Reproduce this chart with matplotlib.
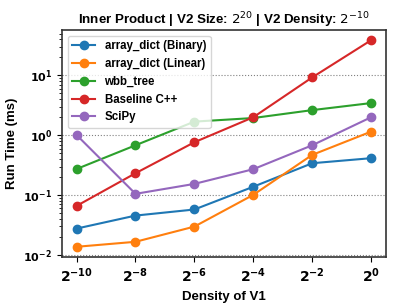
import matplotlib
matplotlib.use("Agg")
import matplotlib.pyplot as plt
import numpy as np

plt.rcParams['font.family'] = ['Liberation Sans', 'DejaVu Sans']

# exponents of 2 for V1 density
exponents = [-10, -8, -6, -4, -2, 0]
density = [2.0 ** e for e in exponents]

binary = [0.0276, 0.0455, 0.0575, 0.138, 0.341, 0.414]
linear = [0.0137, 0.0166, 0.0298, 0.101, 0.47, 1.15]
wbb_tree = [0.273, 0.68, 1.69, 1.94, 2.63, 3.45]
baseline = [0.066, 0.232, 0.765, 2.0, 9.26, 38.7]
scipy = [1.01, 0.105, 0.154, 0.271, 0.68, 2.0]

labels = ["array_dict (Binary)", "array_dict (Linear)", "wbb_tree", "Baseline C++", "SciPy"]

fig = plt.figure(figsize=(4.07, 3.05), dpi=100)
ax = fig.add_axes([0.152, 0.157, 0.796, 0.745])

for series, label in zip([binary, linear, wbb_tree, baseline, scipy], labels):
    ax.plot(density, series, marker="o", markersize=6, linewidth=1.5, label=label)

ax.set_xscale("log", base=2)
ax.set_yscale("log")
ax.set_xticks(density)
ax.set_xticklabels([r"$\mathbf{2^{%d}}$" % e for e in exponents], fontsize=10)
ax.xaxis.set_minor_locator(matplotlib.ticker.NullLocator())

ax.set_yticks([1e-2, 1e-1, 1e0, 1e1])
ax.set_yticklabels([r"$\mathbf{10^{%d}}$" % e for e in [-2, -1, 0, 1]], fontsize=8)

ax.grid(axis="y", which="major", linestyle=":", color="gray", linewidth=0.8)

for sp in ax.spines.values():
    sp.set_linewidth(1.2)
    sp.set_color("#333333")

ax.set_title(r"Inner Product | V2 Size: $2^{20}$ | V2 Density: $2^{-10}$",
             fontsize=9.6, fontweight="bold", pad=3.5)
ax.set_xlabel("Density of V1", fontsize=9.5, fontweight="bold")
ax.set_ylabel("Run Time (ms)", fontsize=9.5, fontweight="bold")

ax.legend(loc="upper left", prop={"weight": "bold", "size": 8.3})

fig.savefig("out.png", dpi=100)
